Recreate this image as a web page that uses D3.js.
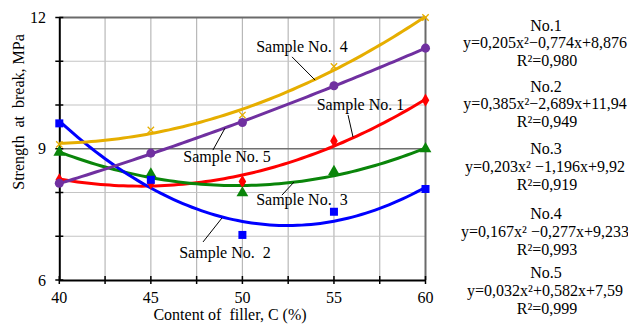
<!DOCTYPE html>
<html>
<head>
<meta charset="utf-8">
<script src="https://cdn.jsdelivr.net/npm/d3@7"></script>
<style>
  html, body { margin: 0; padding: 0; background: #fff; }
  svg { display: block; font-family: "Liberation Serif", "Times New Roman", serif; }
  text { white-space: pre; }
</style>
</head>
<body>
<svg id="chart" width="628" height="327"></svg>
<script>
// Filler content, %
const contents = [40, 45, 50, 55, 60];

// Measured strength at break, MPa
const sample1 = [8.29, 8.22, 8.25, 9.18, 10.11];
const sample2 = [9.58, 8.29, 7.03, 7.56, 8.08];
const sample3 = [8.92, 8.42, 7.99, 8.48, 9.00];
const sample4 = [9.10, 9.43, 9.77, 10.88, 12.00];
const sample5 = [8.21, 8.90, 9.60, 10.44, 11.30];

// Quadratic trend coefficients, y = a·n² + b·n + c, n = point number 1..5
const coefA = [0.205, 0.385, 0.203, 0.167, 0.032];
const coefB = [-0.774, -2.689, -1.196, -0.277, 0.582];
const coefC = [8.876, 11.94, 9.92, 9.233, 7.59];

const seriesNames = ["No.1", "No.2", "No.3", "No.4", "No.5"];
const equations = [
  "y=0,205x²\u22120,774x+8,876",
  "y=0,385x²\u22122,689x+11,94",
  "y=0,203x² \u22121,196x+9,92",
  "y=0,167x² \u22120,277x+9,233",
  "y=0,032x²+0,582x+7,59"
];
const rSquared = ["R²=0,980", "R²=0,949", "R²=0,919", "R²=0,993", "R²=0,999"];

const xTicks = [40, 45, 50, 55, 60];
const yTicks = [6, 9, 12];

// Curve labels and their leader lines, in data units
const labelText = ["Sample No. 1", "Sample No.  2", "Sample No.  3", "Sample No.  4", "Sample No. 5"];
const labelPos = [[56.45, 9.89], [49.05, 6.50], [53.25, 7.71], [53.25, 11.21], [49.16, 8.70]];
const leaderFrom = [[55.77, 9.77], [47.85, 6.87], [52.16, 7.94], [52.71, 11.10], [48.39, 8.97]];
const leaderTo = [[56.04, 9.27], [48.89, 7.42], [52.82, 8.24], [53.97, 10.57], [49.05, 9.47]];

const colors = ["#ff0000", "#0000ff", "#0a850a", "#e6ae00", "#7030a0"];
const symbols = [d3.symbolDiamond, d3.symbolSquare, d3.symbolTriangle, d3.symbolCross, d3.symbolCircle];

const svg = d3.select("#chart");
const x = d3.scaleLinear().domain([40, 60]).range([59.3, 425.5]);
const y = d3.scaleLinear().domain([6, 12]).range([280, 17.5]);

// grid
const g = svg.append("g");
g.selectAll("line.vg").data(d3.range(42.5, 60, 2.5)).join("line")
  .attr("x1", d => x(d)).attr("x2", d => x(d))
  .attr("y1", y(6)).attr("y2", y(12))
  .attr("stroke", "#b8b8b8").attr("stroke-width", 1.2);
g.selectAll("line.hg").data([7, 8, 10, 11]).join("line")
  .attr("x1", x(40)).attr("x2", x(60))
  .attr("y1", d => y(d)).attr("y2", d => y(d))
  .attr("stroke", "#c4c4c4").attr("stroke-width", 1.2);
g.append("line").attr("x1", x(40)).attr("x2", x(60)).attr("y1", y(9)).attr("y2", y(9))
  .attr("stroke", "#707070").attr("stroke-width", 1.6);
// frame top/right
g.append("path")
  .attr("d", `M${x(40)},${y(12)}H${x(60)}V${y(6)}`)
  .attr("fill", "none").attr("stroke", "#6a6a6a").attr("stroke-width", 2);

// axes
const xAxis = d3.axisBottom(x).tickValues(d3.range(40, 60.1, 2.5)).tickSize(0).tickFormat("");
const xa = svg.append("g").attr("transform", `translate(0,${y(6)})`).call(xAxis);
xa.select(".domain").attr("stroke", "#000").attr("stroke-width", 2);
xa.selectAll(".tick line").remove();
svg.append("g").selectAll("line").data(d3.range(40, 60.1, 2.5)).join("line")
  .attr("x1", d => x(d)).attr("x2", d => x(d))
  .attr("y1", y(6) - 4).attr("y2", y(6) + 4)
  .attr("stroke", "#000").attr("stroke-width", 1.5);
svg.append("g").selectAll("text").data(xTicks).join("text")
  .attr("x", d => x(d)).attr("y", 303)
  .attr("text-anchor", "middle").attr("font-size", 16).text(d => d);

const yAxis = d3.axisLeft(y).tickValues(d3.range(6, 12.1, 1)).tickSize(0).tickFormat("");
const ya = svg.append("g").attr("transform", `translate(${x(40)},0)`).call(yAxis);
ya.select(".domain").attr("stroke", "#000").attr("stroke-width", 2);
ya.selectAll(".tick line").remove();
svg.append("g").selectAll("line").data(d3.range(6, 12.1, 1)).join("line")
  .attr("x1", x(40) - 4).attr("x2", x(40) + 4)
  .attr("y1", d => y(d)).attr("y2", d => y(d))
  .attr("stroke", "#000").attr("stroke-width", 1.5);
svg.append("g").selectAll("text").data(yTicks).join("text")
  .attr("x", 46).attr("y", d => y(d) + 5.5)
  .attr("text-anchor", "end").attr("font-size", 16).text(d => d);

// axis titles
svg.append("text").attr("x", 230).attr("y", 320).attr("text-anchor", "middle")
  .attr("font-size", 16).text("Content of  filler, C (%)");
svg.append("text").attr("transform", "translate(24,112) rotate(-90)")
  .attr("text-anchor", "middle").attr("font-size", 16).text("Strength  at  break, MPa");

// trend curves
const samples = [sample1, sample2, sample3, sample4, sample5];
const line = d3.line().x(d => x(d[0])).y(d => y(d[1])).curve(d3.curveLinear);
const order = [0, 2, 1, 3, 4];
order.forEach(i => {
  const pts = d3.range(0, 81).map(k => {
    const c = 40 + k * 0.25;
    const n = (c - 40) / 5 + 1;
    return [c, coefA[i] * n * n + coefB[i] * n + coefC[i]];
  });
  svg.append("path").datum(pts).attr("d", line)
    .attr("fill", "none").attr("stroke", colors[i]).attr("stroke-width", 3)
    .attr("stroke-linejoin", "round");
});
order.forEach(i => {
  const isCross = i === 3;
  const sizes = [50, 64, 60, 60, 64];
  if (isCross) {
    svg.append("g").selectAll("path").data(samples[i]).join("path")
      .attr("transform", (d, k) => `translate(${x(contents[k])},${y(d)}) rotate(45)`)
      .attr("d", "M-4.5,0H4.5M0,-4.5V4.5")
      .attr("stroke", colors[i]).attr("stroke-width", 1.3).attr("fill", "none");
  } else {
    svg.append("g").selectAll("path").data(samples[i]).join("path")
      .attr("transform", (d, k) => `translate(${x(contents[k])},${y(d)})`)
      .attr("d", d3.symbol().type(symbols[i]).size(sizes[i])())
      .attr("fill", colors[i]);
  }
});

// curve labels with leaders
const lab = svg.append("g");
labelText.forEach((t, i) => {
  lab.append("line")
    .attr("x1", x(leaderFrom[i][0])).attr("y1", y(leaderFrom[i][1]))
    .attr("x2", x(leaderTo[i][0])).attr("y2", y(leaderTo[i][1]))
    .attr("stroke", "#000").attr("stroke-width", 1);
  lab.append("text").attr("x", x(labelPos[i][0])).attr("y", y(labelPos[i][1]))
    .attr("text-anchor", "middle").attr("font-size", 16).text(t);
});

// equation panel
const groupBase = [30.7, 91.7, 154, 219.3, 278.3];
const panel = svg.append("g").attr("text-anchor", "middle").attr("font-size", 16);
seriesNames.forEach((nm, i) => {
  panel.append("text").attr("x", 546).attr("y", groupBase[i]).text(nm);
  panel.append("text").attr("x", 545).attr("y", groupBase[i] + 17.5).text(equations[i]);
  panel.append("text").attr("x", 547).attr("y", groupBase[i] + 35.5).text(rSquared[i]);
});
</script>
</body>
</html>
